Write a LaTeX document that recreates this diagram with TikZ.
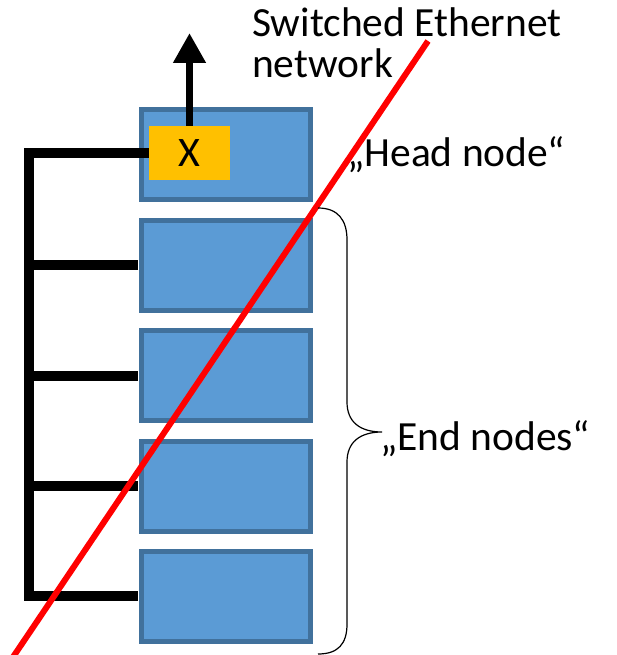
\documentclass[tikz,border=0pt]{standalone}
\usepackage{fontspec}
\setmainfont{Carlito}
\usetikzlibrary{arrows.meta}
\definecolor{boxfill}{HTML}{5B9BD5}
\definecolor{boxline}{HTML}{41719C}
\definecolor{xfill}{HTML}{FFC000}
\begin{document}
\begin{tikzpicture}[x=1pt,y=-1pt,
  unit/.style={draw=boxline,fill=boxfill,line width=5pt,minimum width=169pt,minimum height=90pt,inner sep=0pt},
  xbox/.style={fill=xfill,minimum width=81pt,minimum height=54pt,inner sep=0pt,font=\fontsize{42}{48}\selectfont},
  bus/.style={line width=10pt,black},
  lbl/.style={font=\fontsize{41.5}{41}\selectfont,inner sep=0pt}]
\useasboundingbox (0,0) rectangle (616,655);
\clip (0,0) rectangle (616,655);
\coordinate (bt) at (29,153);
\node[unit] (b1) at (226,154.5) {};
\node[unit] (b2) at (226,265) {};
\node[unit] (b3) at (226,375.5) {};
\node[unit] (b4) at (226,486) {};
\node[unit] (b5) at (226,596) {};
\node[xbox] (x) at (189.5,153) {X};
\draw[bus] (x.west) -- (bt) |- ([xshift=-1pt]b5.west);
\draw[bus] (bt |- b2.west) -- ([xshift=-1pt]b2.west);
\draw[bus] (bt |- b3.west) -- ([xshift=-1pt]b3.west);
\draw[bus] (bt |- b4.west) -- ([xshift=-1pt]b4.west);
\coordinate (atip) at (189.5,33);
\draw[line width=7.5pt,-{Triangle[width=31pt,length=30pt]}] (x.north) -- (atip);
% red line
\coordinate (r1) at (428,41);
\coordinate (r2) at (7,666);
\draw[red,line width=6pt] (r1) -- (r2);
% brace
\coordinate (btop) at (318,208);
\coordinate (btip) at (382,432);
\coordinate (bbot) at (318,654);
\draw[line width=1.2pt] (btop) .. controls (338,208) and (347,220) .. (347,240)
  -- (347,402) .. controls (347,422) and (360,432) .. (btip)
  .. controls (360,432) and (347,442) .. (347,462)
  -- (347,624) .. controls (347,644) and (338,654) .. (bbot);
% labels
\node[lbl,anchor=base west,align=left] (net) at (252,78) {Switched Ethernet\\network};
\node[lbl,anchor=base west] (head) at (347,167) {„Head node“};
\node[lbl,anchor=base west] (ends) at (380,450) {„End nodes“};
\end{tikzpicture}
\end{document}
